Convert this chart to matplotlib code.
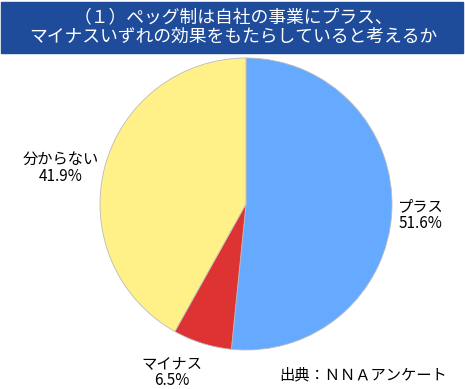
import matplotlib.pyplot as plt
from matplotlib.patches import Rectangle

plt.rcParams["font.family"] = ["Noto Sans CJK JP", "DejaVu Sans"]

labels = ["プラス", "マイナス", "分からない"]
shares = [51.6, 6.5, 41.9]
colors = ["#66aaff", "#dd3333", "#fff088"]
title = "（１）ペッグ制は自社の事業にプラス、\nマイナスいずれの効果をもたらしていると考えるか"
source = "出典：ＮＮＡアンケート"

W, H = 465, 389
fig = plt.figure(figsize=(W / 100, H / 100), dpi=100)

# title banner
fig.patches.append(Rectangle((1 / W, 1 - 53 / H), 462 / W, 51 / H,
                             transform=fig.transFigure, color="#1f4b9b"))
fig.text(233 / W, 1 - 27 / H, title, color="white", fontsize=12.8,
         ha="center", va="center", linespacing=1.15)

# pie: center (246, 204), radius 146 px
r = 146
ax = fig.add_axes([(246 - r) / W, 1 - (204 + r) / H, 2 * r / W, 2 * r / H])
ax.pie(shares, colors=colors, startangle=90, counterclock=False,
       wedgeprops=dict(edgecolor="#bbbbbb", linewidth=0.6))
ax.set_xlim(-1, 1)
ax.set_ylim(-1, 1)
ax.set_aspect("auto")
ax.axis("off")

pos = [(421, 215), (172, 372), (61, 168)]
for (x, y), lab, s in zip(pos, labels, shares):
    fig.text(x / W, 1 - y / H, f"{lab}\n{s}%", fontsize=11, ha="center",
             va="center", linespacing=1.0)

fig.text(363 / W, 1 - 375 / H, source, fontsize=11, ha="center", va="center")

fig.savefig("out.png", dpi=100)
